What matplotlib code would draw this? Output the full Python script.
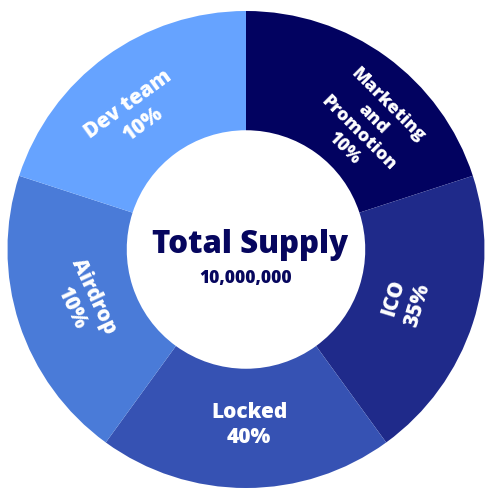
import matplotlib.pyplot as plt
import numpy as np

labels = ["Marketing\nand\nPromotion", "ICO", "Locked", "Airdrop", "Dev team"]
pct_text = ["10%", "35%", "40%", "10%", "10%"]
shares = [20, 20, 20, 20, 20]
total_title = "Total Supply"
total_value = "10,000,000"

colors = ["#020260", "#1f2a8a", "#3652b3", "#4a7bd8", "#66a3ff"]
# label placement: (angle deg, radius, rotation, size)
label_pos = [(45.7, 0.72, -45, 13), (-18, 0.705, 73, 15), (-89, 0.735, 0, 15),
             (-162.2, 0.72, -65, 15), (129.4, 0.73, 36, 15)]

plt.rcParams['font.family'] = ['Open Sans', 'DejaVu Sans']

fig = plt.figure(figsize=(5, 5), dpi=100)
ax = fig.add_axes([0, 0, 1, 1])

wedges, _ = ax.pie(shares, colors=colors, startangle=90, counterclock=False,
                   radius=1.0, wedgeprops=dict(width=0.5, linewidth=0))

for lab, pct, (ang, r, rot, fs) in zip(labels, pct_text, label_pos):
    a = np.deg2rad(ang)
    ax.text(r * np.cos(a), r * np.sin(a), lab + "\n" + pct, color="white",
            fontsize=fs, fontweight=800, ha="center", va="center",
            rotation=rot, rotation_mode="anchor", linespacing=1.25,
            multialignment="center")

ax.text(0.017, -0.016, total_title, color="#06065e", fontsize=22.5,
        fontweight=800, ha="center", va="baseline")
ax.text(0.0, -0.142, total_value, color="#06065e", fontsize=12.5,
        fontweight=800, ha="center", va="baseline")

ax.set_xlim(-1.0314, 1.065)
ax.set_ylim(-1.0503, 1.0461)
ax.set_aspect("auto")
ax.axis("off")

fig.savefig("out.png", dpi=100, facecolor="white")
